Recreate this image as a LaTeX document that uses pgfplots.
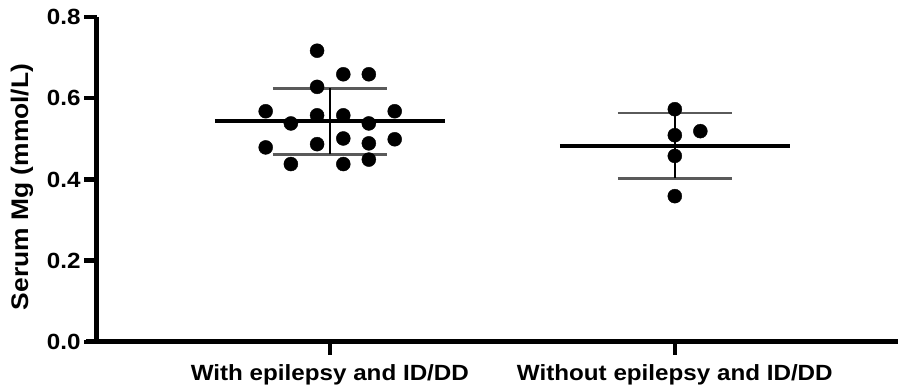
\documentclass[border=0pt]{standalone}
\usepackage{pgfplots}
\pgfplotsset{compat=1.18}
\usepackage{fontspec}
\setmainfont{Liberation Sans}[FakeStretch=1.1]
\definecolor{sdgray}{HTML}{5A5A5A}
\begin{document}
\begin{tikzpicture}
\begin{axis}[
  scale only axis, width=801pt, height=325pt,
  at={(0,0)}, anchor=south west,
  xmin=-0.675, xmax=1.647, ymin=0, ymax=0.8,
  clip=false,
  axis x line*=bottom, axis y line*=left,
  axis line style={line width=5pt, -},
  x axis line style={shorten <=-11pt},
  xtick={0,1}, xtick pos=bottom, ytick pos=left,
  xticklabels={With epilepsy and ID/DD, Without epilepsy and ID/DD},
  xticklabel style={yshift=-6pt},
  ytick={0,0.2,0.4,0.6,0.8},
  yticklabel style={/pgf/number format/.cd, fixed, fixed zerofill, precision=1, assume math mode=true},
  tick align=outside, major tick length=13pt,
  tick style={line width=4.5pt, black},
  tick label style={font=\bfseries\fontsize{22}{26}\selectfont},
  ylabel={Serum Mg (mmol/L)},
  every axis y label/.style={at={(axis description cs:-0.0936,0.477)}, rotate=90, anchor=center, font=\bfseries\fontsize{24}{28}\selectfont},
]
% SD lines
\addplot[sdgray, line width=2.5pt] coordinates {(-0.165,0.624) (0.165,0.624)};
\addplot[sdgray, line width=2.5pt] coordinates {(-0.165,0.462) (0.165,0.462)};
\addplot[sdgray, line width=2.5pt] coordinates {(0.835,0.564) (1.165,0.564)};
\addplot[sdgray, line width=2.5pt] coordinates {(0.835,0.403) (1.165,0.403)};
% vertical error bars
\addplot[black, line width=2pt] coordinates {(0,0.462) (0,0.624)};
\addplot[black, line width=2pt] coordinates {(1,0.403) (1,0.564)};
% mean lines
\addplot[black, line width=4pt] coordinates {(-0.333,0.544) (0.333,0.544)};
\addplot[black, line width=4pt] coordinates {(0.667,0.483) (1.333,0.483)};
% points
\addplot[only marks, mark=*, mark size=7pt, black] coordinates {
(-0.037,0.717) (0.039,0.659) (0.113,0.659) (-0.037,0.628)
(-0.186,0.568) (-0.037,0.558) (0.039,0.558) (0.188,0.568)
(-0.113,0.538) (0.113,0.538) (-0.186,0.479) (-0.037,0.487)
(0.039,0.501) (0.113,0.489) (0.188,0.499) (-0.113,0.438)
(0.039,0.438) (0.113,0.449)
};
\addplot[only marks, mark=*, mark size=7pt, black] coordinates {
(1.0,0.573) (1.0,0.509) (1.074,0.519) (1.0,0.458) (1.0,0.359)
};
\end{axis}
\pgfresetboundingbox
\path (-97pt,-48pt) rectangle (801pt,342pt);
\end{tikzpicture}
\end{document}
